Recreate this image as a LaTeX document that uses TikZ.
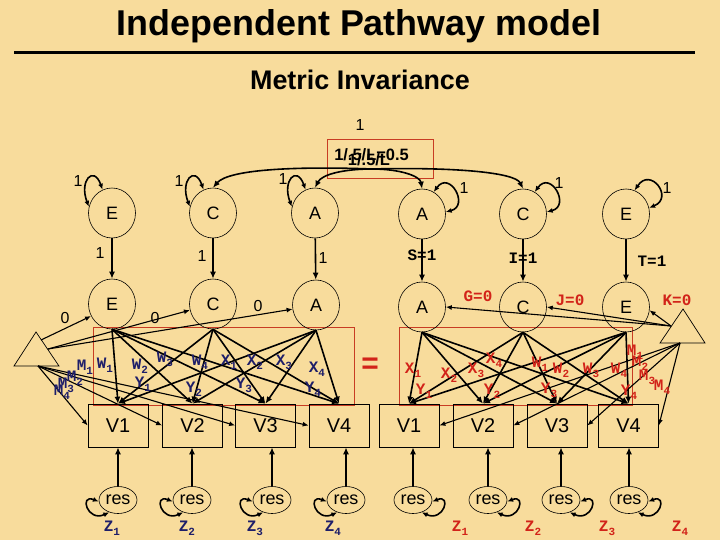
\documentclass[tikz,border=0pt]{standalone}
\usepackage{fontspec}
\setmainfont{Liberation Sans}
\newfontfamily\cour{Liberation Mono}
\usetikzlibrary{arrows.meta,shapes.geometric}
\definecolor{bgc}{RGB}{248,220,156}
\definecolor{boxr}{RGB}{200,60,35}
\definecolor{navy}{RGB}{30,30,105}
\definecolor{labr}{RGB}{210,35,25}
\newcommand\sbx[1]{\raisebox{-0.45ex}{\fontsize{11}{11}\selectfont #1}}
\begin{document}
\begin{tikzpicture}[x=1bp, y=-1bp,
 lat/.style={ellipse, draw, line width=0.6bp, minimum width=47bp, minimum height=50bp, inner sep=0pt, font=\fontsize{18}{18}\selectfont},
 obs/.style={rectangle, draw, line width=0.7bp, minimum width=60bp, minimum height=43bp, inner sep=0pt, font=\fontsize{20}{20}\selectfont},
 resn/.style={ellipse, draw, line width=0.6bp, minimum width=38bp, minimum height=27bp, inner sep=0pt, font=\fontsize{18}{18}\selectfont},
 arr/.style={-{Latex[length=7bp,width=6bp]}, line width=1.6bp},
 tarr/.style={-{Latex[length=6bp,width=5bp]}, line width=1.1bp},
 dbl/.style={{Latex[length=6bp,width=5bp]}-{Latex[length=6bp,width=5bp]}, line width=1.6bp},
 one/.style={font=\fontsize{16}{16}\selectfont, inner sep=1pt},
 cb/.style={font=\cour\bfseries\fontsize{16}{16}\selectfont, inner sep=0pt},
 nl/.style={cb, text=navy},
 rl/.style={cb, text=labr},
 redbox/.style={draw=boxr, line width=0.9bp}
]
\fill[bgc] (0,0) rectangle (720,540);
\useasboundingbox (0,0) rectangle (720,540);

% titles
\node[font=\bfseries\fontsize{36}{36}\selectfont] (title) at (359,26) {Independent Pathway model};
\draw[line width=3bp] (14,53) -- (695,53);
\node[font=\bfseries\fontsize{27}{27}\selectfont] (subt) at (360,80) {Metric Invariance};

% top constraint box
\node[one] (top1) at (360,125) {1};
\node[redbox, minimum width=106bp, minimum height=39bp, inner sep=0pt] (cbox) at (380,159) {};
\node[font=\bfseries\fontsize{16.5}{16.5}\selectfont, inner sep=0pt] (ctxt) at (371.5,155) {1/.5/L=0.5};
\node[font=\bfseries\fontsize{16.5}{16.5}\selectfont, inner sep=0pt] (ctxt2) at (369,160) {1/.5/L};
\coordinate (src) at (372,169);

% red boxes
\draw[redbox] (93,327) rectangle (354,405);
\draw[redbox] (399,327) rectangle (632,405);
\node[text=labr, font=\bfseries\fontsize{30}{30}\selectfont] (eq) at (370,366) {=};

% upper latents
\node[lat] (E1) at (112,213) {E};
\node[lat] (C1) at (213,213) {C};
\node[lat] (A1) at (315,213) {A};
\node[lat] (A2) at (422,214) {A};
\node[lat] (C2) at (523,214) {C};
\node[lat] (E2) at (626,214) {E};
% lower latents
\node[lat] (e1) at (112,304) {E};
\node[lat] (c1) at (213,304) {C};
\node[lat] (a1) at (316,305) {A};
\node[lat] (a2) at (422,307) {A};
\node[lat] (c2) at (523,307) {C};
\node[lat] (e2) at (626,307) {E};

% arcs from constraint box
\draw[arr] (src) .. controls (290,166) and (228,170) .. (C1.north);
\draw[arr] (src) .. controls (345,169) and (322,174) .. (A1.north);
\draw[arr] (src) .. controls (400,169) and (420,176) .. (A2.north);
\draw[arr] (src) .. controls (450,167) and (515,172) .. (C2.north);

% variance loops, upper left
\draw[dbl] (E1.165) .. controls +(-10,-26) and +(-9,-25) .. (E1.112);
\draw[dbl] (C1.165) .. controls +(-10,-26) and +(-9,-25) .. (C1.112);
\draw[dbl] (A1.165) .. controls +(-10,-26) and +(-9,-25) .. (A1.112);
\node[one] (lE1) at (78,181) {1};
\node[one] (lC1) at (179,181) {1};
\node[one] (lA1) at (283,179) {1};
% upper right
\draw[dbl] (A2.62) .. controls +(16,-22) and +(24,-6) .. (A2.5);
\draw[dbl] (C2.62) .. controls +(16,-22) and +(24,-6) .. (C2.5);
\draw[dbl] (E2.70) .. controls +(16,-24) and +(25,-10) .. (E2.15);
\node[one] (lA2) at (464,188) {1};
\node[one] (lC2) at (559,183) {1};
\node[one] (lE2) at (667,188) {1};

% vertical loadings
\draw[arr] (E1) -- (e1);
\draw[arr] (C1) -- (c1);
\draw[arr] (A1) -- (a1);
\node[one] (v1) at (100,253) {1};
\node[one] (v2) at (202,256) {1};
\node[one] (v3) at (323,258) {1};
\draw[arr] (A2) -- (a2);
\draw[arr] (C2) -- (c2);
\draw[arr] (E2) -- (e2);
\node[cb] (sl) at (422,255) {S=1};
\node[cb] (il) at (523,258) {I=1};
\node[cb] (tl) at (652,261) {T=1};

% triangles
\coordinate (tLa) at (36,332); \coordinate (tLb) at (59,366); \coordinate (tLc) at (14,366);
\draw[line width=0.7bp] (tLa) -- (tLb) -- (tLc) -- cycle;
\coordinate (tRa) at (683,309); \coordinate (tRb) at (705,343); \coordinate (tRc) at (660,343);
\draw[line width=0.7bp] (tRa) -- (tRb) -- (tRc) -- cycle;
\coordinate (tL1) at (41,340);
\coordinate (tL2) at (48,349);
\coordinate (tL3) at (38,366);
\coordinate (tR1) at (671,326);
\coordinate (tR3) at (680,343);

% observed boxes
\node[obs] (V1) at (118,425.5) {V1};
\node[obs] (V2) at (192.5,425.5) {V2};
\node[obs] (V3) at (265.5,425.5) {V3};
\node[obs] (V4) at (339,425.5) {V4};
\node[obs] (W1) at (409,425.5) {V1};
\node[obs] (W2) at (483,425.5) {V2};
\node[obs] (W3) at (557,425.5) {V3};
\node[obs] (W4) at (628.5,425.5) {V4};

% means, left
\draw[tarr] (tL1) -- (e1.-150);
\draw[tarr] (tL2) -- (c1.-165);
\draw[tarr] (tL2) -- (a1.-170);
\node[one] (m0a) at (65,318) {0};
\node[one] (m0b) at (155,318) {0};
\node[one] (m0c) at (258,306) {0};
\foreach \v in {V1,V2,V3,V4} \draw[tarr] (tL3) -- (\v.west);
% means, right
\draw[tarr] (tR1) -- (a2.east);
\draw[tarr] (tR1) -- (c2.east);
\draw[tarr] (tR1) -- (e2.-8);
\node[rl] (gl) at (478,296) {G=0};
\node[rl] (jl) at (570,300) {J=0};
\node[rl] (kl) at (677,300) {K=0};
\foreach \v in {W1,W2,W3,W4} \draw[tarr] (tR3) -- (\v.east);

% loadings inside boxes
\foreach \f in {e1,c1,a1} \foreach \v in {V1,V2,V3,V4} \draw[arr] (\f.south) -- (\v.north);
\foreach \f in {a2,c2,e2} \foreach \v in {W1,W2,W3,W4} \draw[arr] (\f.south) -- (\v.north);

% labels left (navy)
\node[nl] at (105,365) {W\sbx{1}};
\node[nl] at (140,366) {W\sbx{2}};
\node[nl] at (165,359) {W\sbx{3}};
\node[nl] at (200,362) {W\sbx{4}};
\node[nl] at (229,362) {X\sbx{1}};
\node[nl] at (255,362) {X\sbx{2}};
\node[nl] at (284,362) {X\sbx{3}};
\node[nl] at (317,369) {X\sbx{4}};
\node[nl] at (143,384) {Y\sbx{1}};
\node[nl] at (194,389) {Y\sbx{2}};
\node[nl] at (244,385) {Y\sbx{3}};
\node[nl] at (313,389) {Y\sbx{4}};
\node[nl] at (85,367) {M\sbx{1}};
\node[nl] at (75,378) {M\sbx{2}};
\node[nl] at (66,385) {M\sbx{3}};
\node[nl] at (62,392) {M\sbx{4}};
% labels right (red)
\node[rl] at (413,370) {X\sbx{1}};
\node[rl] at (449,375) {X\sbx{2}};
\node[rl] at (476,370) {X\sbx{3}};
\node[rl] at (494,360) {X\sbx{4}};
\node[rl] at (424,391) {Y\sbx{1}};
\node[rl] at (492,391) {Y\sbx{2}};
\node[rl] at (549,390) {Y\sbx{3}};
\node[rl] at (629,392) {Y\sbx{4}};
\node[rl] at (540,364) {W\sbx{1}};
\node[rl] at (561,370) {W\sbx{2}};
\node[rl] at (591,370) {W\sbx{3}};
\node[rl] at (619,370) {W\sbx{4}};
\node[rl] at (635,352) {M\sbx{1}};
\node[rl] at (640,363) {M\sbx{2}};
\node[rl] at (647,377) {M\sbx{3}};
\node[rl] at (662,387) {M\sbx{4}};

% residuals
\node[resn] (r1) at (118,500) {res};
\node[resn] (r2) at (192,500) {res};
\node[resn] (r3) at (272,500) {res};
\node[resn] (r4) at (346,500) {res};
\node[resn] (s1) at (413,500) {res};
\node[resn] (s2) at (488,500) {res};
\node[resn] (s3) at (561,500) {res};
\node[resn] (s4) at (629,500) {res};
\foreach \r/\v in {r1/V1,r2/V2,r3/V3,r4/V4,s1/W1,s2/W2,s3/W3,s4/W4}
  \draw[arr] (\r.north) -- (\r.north |- \v.south);
\foreach \r in {r1,r2,r3,r4}
  \draw[dbl] (\r.185) .. controls +(-20,-8) and +(-22,10) .. (\r.235);
\foreach \r in {s1,s2,s3,s4}
  \draw[dbl] (\r.-5) .. controls +(20,-8) and +(22,10) .. (\r.-55);
\node[nl] (z1) at (112,528) {Z\sbx{1}};
\node[nl] (z2) at (187,528) {Z\sbx{2}};
\node[nl] (z3) at (255,528) {Z\sbx{3}};
\node[nl] (z4) at (333,528) {Z\sbx{4}};
\node[rl] (y1) at (460,528) {Z\sbx{1}};
\node[rl] (y2) at (533,528) {Z\sbx{2}};
\node[rl] (y3) at (607,528) {Z\sbx{3}};
\node[rl] (y4) at (680,528) {Z\sbx{4}};
\end{tikzpicture}
\end{document}
